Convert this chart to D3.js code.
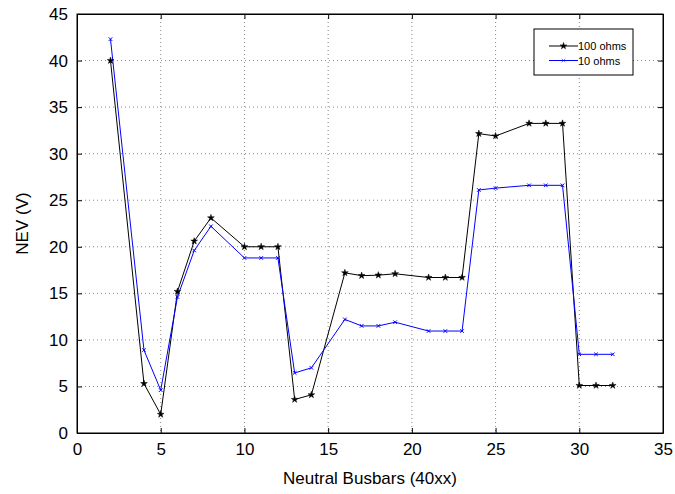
<!DOCTYPE html>
<html>
<head>
<meta charset="utf-8">
<script src="https://cdn.jsdelivr.net/npm/d3@7"></script>
<style>
  body { margin: 0; background: #fff; }
  svg { font-family: "Liberation Sans", Arial, sans-serif; }
  .grid line { stroke: #888; stroke-dasharray: 1,3; }
</style>
</head>
<body>
<div id="chart"></div>
<script>
var busbars = [2, 4, 5, 6, 7, 8, 10, 11, 12, 13, 14, 16, 17, 18, 19, 21, 22, 23, 24, 25, 27, 28, 29, 30, 31, 32];
var nev100 = [40.0, 5.3, 2.0, 15.2, 20.6, 23.1, 20.0, 20.0, 20.0, 3.6, 4.1, 17.2, 16.9, 16.95, 17.1, 16.7, 16.7, 16.7, 32.15, 31.9, 33.25, 33.25, 33.25, 5.1, 5.1, 5.1];
var nev10 = [42.3, 8.9, 4.6, 14.6, 19.6, 22.2, 18.8, 18.8, 18.8, 6.45, 7.0, 12.2, 11.5, 11.5, 11.9, 10.95, 10.95, 10.95, 26.1, 26.3, 26.6, 26.6, 26.6, 8.45, 8.45, 8.45];
var xTicks = [0, 5, 10, 15, 20, 25, 30, 35];
var yTicks = [0, 5, 10, 15, 20, 25, 30, 35, 40, 45];
var seriesNames = ['100 ohms', '10 ohms'];

var W = 675, H = 494;
var m = {left: 77, right: 12, top: 14, bottom: 61};
var w = W - m.left - m.right;
var h = H - m.top - m.bottom;

var svg = d3.select('#chart').append('svg')
  .attr('width', W)
  .attr('height', H);

var g = svg.append('g').attr('transform', 'translate(' + m.left + ',' + m.top + ')');

var x = d3.scaleLinear().domain([0, 35]).range([0, w]);
var y = d3.scaleLinear().domain([0, 45]).range([h, 0]);

// grid
g.append('g').attr('class', 'grid')
  .selectAll('line').data(xTicks.slice(1, -1)).enter().append('line')
  .attr('x1', function (d) { return x(d); }).attr('x2', function (d) { return x(d); })
  .attr('y1', 0).attr('y2', h);
g.append('g').attr('class', 'grid')
  .selectAll('line').data(yTicks.slice(1, -1)).enter().append('line')
  .attr('y1', function (d) { return y(d); }).attr('y2', function (d) { return y(d); })
  .attr('x1', 0).attr('x2', w);

// axes (ticks pointing inward, MATLAB style)
var xAxis = d3.axisBottom(x).tickValues(xTicks).tickSizeInner(-5).tickSizeOuter(0).tickPadding(10);
var yAxis = d3.axisLeft(y).tickValues(yTicks).tickSizeInner(-5).tickSizeOuter(0).tickPadding(9);

var gx = g.append('g').attr('transform', 'translate(0,' + h + ')').call(xAxis);
var gy = g.append('g').call(yAxis);
g.append('g').call(d3.axisTop(x).tickValues(xTicks).tickSizeInner(-5).tickSizeOuter(0).tickFormat(''));
g.append('g').attr('transform', 'translate(' + w + ',0)')
  .call(d3.axisRight(y).tickValues(yTicks).tickSizeInner(-5).tickSizeOuter(0).tickFormat(''));

svg.selectAll('.domain').attr('stroke', '#000').attr('stroke-width', 1);
svg.selectAll('.tick line').attr('stroke', '#000');
gx.selectAll('text').attr('font-size', 17).attr('fill', '#000');
gy.selectAll('text').attr('font-size', 17).attr('fill', '#000');

g.append('rect').attr('width', w).attr('height', h)
  .attr('fill', 'none').attr('stroke', '#000').attr('stroke-width', 1);

// lines
var line = d3.line()
  .x(function (d) { return x(d[0]); })
  .y(function (d) { return y(d[1]); });

var d100 = busbars.map(function (b, i) { return [b, nev100[i]]; });
var d10 = busbars.map(function (b, i) { return [b, nev10[i]]; });

g.append('path').datum(d100).attr('d', line)
  .attr('fill', 'none').attr('stroke', '#000').attr('stroke-width', 1);
g.append('path').datum(d10).attr('d', line)
  .attr('fill', 'none').attr('stroke', '#0000ff').attr('stroke-width', 1);

var star = d3.symbol().type(d3.symbolStar).size(14);
var cross = d3.symbol().type(d3.symbolX).size(10);

g.selectAll('.m100').data(d100).enter().append('path')
  .attr('class', 'm100')
  .attr('d', star)
  .attr('transform', function (d) { return 'translate(' + x(d[0]) + ',' + y(d[1]) + ')'; })
  .attr('fill', '#000').attr('stroke', '#000').attr('stroke-width', 0.5);
g.selectAll('.m10').data(d10).enter().append('path')
  .attr('class', 'm10')
  .attr('d', cross)
  .attr('transform', function (d) { return 'translate(' + x(d[0]) + ',' + y(d[1]) + ')'; })
  .attr('fill', '#0000ff').attr('stroke', '#0000ff').attr('stroke-width', 1);

// axis labels
svg.append('text')
  .attr('x', m.left + w / 2).attr('y', 484)
  .attr('text-anchor', 'middle').attr('font-size', 17)
  .text('Neutral Busbars (40xx)');
svg.append('text')
  .attr('transform', 'translate(28,' + (m.top + h / 2) + ') rotate(-90)')
  .attr('text-anchor', 'middle').attr('font-size', 17)
  .text('NEV (V)');

// legend
var legend = svg.append('g').attr('transform', 'translate(534,29)');
legend.append('rect').attr('width', 99).attr('height', 46)
  .attr('fill', '#fff').attr('stroke', '#000').attr('stroke-width', 1);
var cols = ['#000', '#0000ff'];
var syms = [star, cross];
seriesNames.forEach(function (name, i) {
  var ly = 17 + i * 14.5;
  legend.append('line').attr('x1', 15).attr('x2', 44).attr('y1', ly).attr('y2', ly)
    .attr('stroke', cols[i]).attr('stroke-width', 1);
  legend.append('path').attr('d', syms[i]).attr('transform', 'translate(29.5,' + ly + ')')
    .attr('fill', cols[i]).attr('stroke', cols[i]).attr('stroke-width', 0.5);
  legend.append('text').attr('x', 44).attr('y', ly + 4)
    .attr('font-size', 11).text(name);
});
</script>
</body>
</html>
